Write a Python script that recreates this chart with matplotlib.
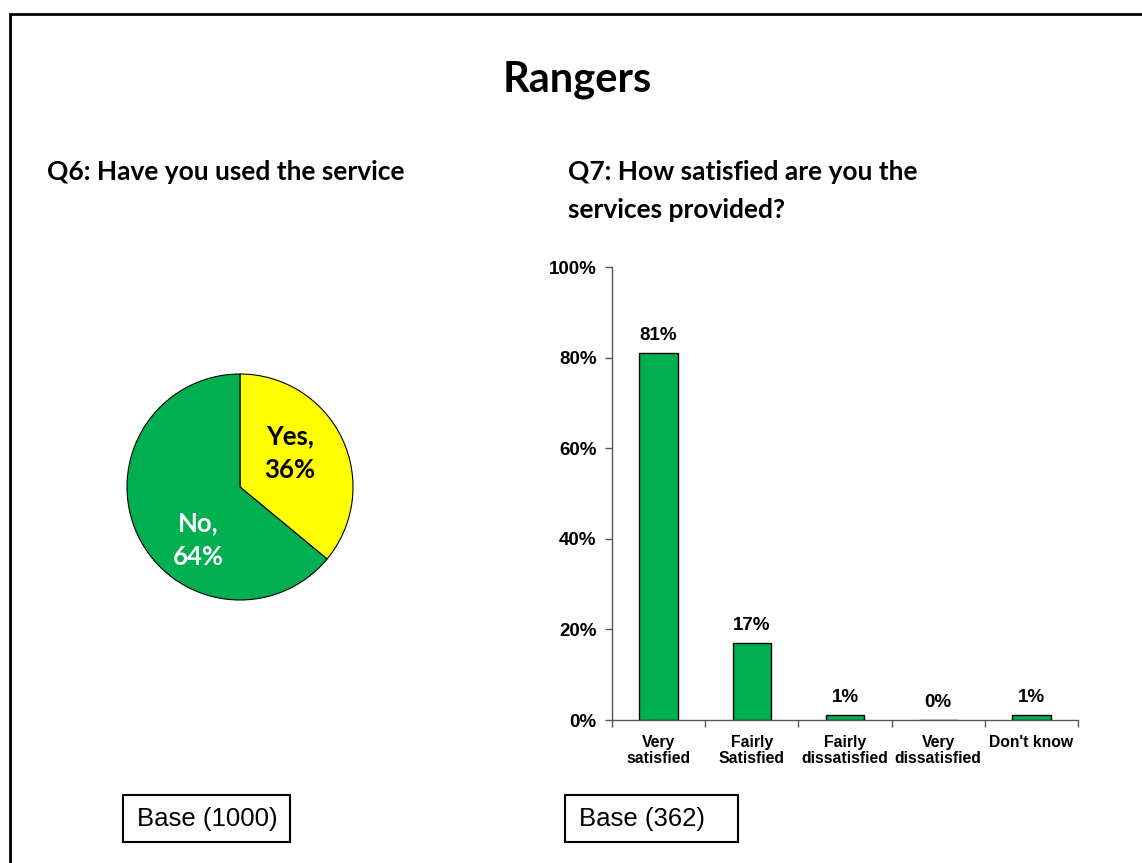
import matplotlib.pyplot as plt
import matplotlib.patches as patches
import numpy as np

# Q6 pie data
pie_labels = ['Yes', 'No']
pie_values = [36, 64]
pie_colors = ['#FFFF00', '#00B050']

# Q7 bar data
bar_categories = ['Very\nsatisfied', 'Fairly\nSatisfied', 'Fairly\ndissatisfied',
                  'Very\ndissatisfied', "Don't know"]
bar_values = [81, 17, 1, 0, 1]
y_ticks = [0, 20, 40, 60, 80, 100]

base_q6 = 1000
base_q7 = 362

head_font = 'Lato'
chart_font = 'Liberation Sans'

fig = plt.figure(figsize=(11.42, 8.63), dpi=100)
W, H = 1142, 863

def fx(px):
    return px / W

def fy(py):
    return 1 - py / H

# slide frame (runs off right and bottom edges)
frame = patches.Rectangle((fx(10), -0.1), 1.2, fy(14) + 0.1, transform=fig.transFigure,
                          fill=False, edgecolor='black', linewidth=2, clip_on=False)
fig.add_artist(frame)

fig.text(fx(577), fy(80), 'Rangers', ha='center', va='center',
         fontsize=30, fontweight='bold', family=head_font)
fig.text(fx(47), fy(172), 'Q6: Have you used the service', ha='left', va='center',
         fontsize=19, fontweight='bold', family=head_font)
fig.text(fx(568), fy(172), 'Q7: How satisfied are you the', ha='left', va='center',
         fontsize=19, fontweight='bold', family=head_font)
fig.text(fx(568), fy(210), 'services provided?', ha='left', va='center',
         fontsize=19, fontweight='bold', family=head_font)

# pie chart
cx, cy, r = 240, 487, 113
ax_pie = fig.add_axes([fx(cx - r), fy(cy + r), (2 * r) / W, (2 * r) / H])
ax_pie.pie(pie_values, colors=pie_colors, startangle=90, counterclock=False,
           wedgeprops=dict(edgecolor='black', linewidth=0.8))
ax_pie.set_xlim(-1, 1)
ax_pie.set_ylim(-1, 1)
ax_pie.set_aspect('equal')
ax_pie.axis('off')
ax_pie.text(0.44, 0.30, f'{pie_labels[0]},\n{pie_values[0]}%', ha='center', va='center',
            fontsize=18.5, fontweight='bold', family=head_font, color='black', linespacing=1.5)
ax_pie.text(-0.37, -0.47, f'{pie_labels[1]},\n{pie_values[1]}%', ha='center', va='center',
            fontsize=18.5, fontweight='bold', family=head_font, color='white', linespacing=1.5)

# bar chart
ax = fig.add_axes([fx(612), fy(720), fx(1078) - fx(612), fy(267) - fy(720)])
x = np.arange(len(bar_categories))
ax.bar(x, bar_values, width=0.41, color='#00B050', edgecolor='black', linewidth=1)
for xi, v in zip(x, bar_values):
    ax.text(xi, v + 2, f'{v}%', ha='center', va='bottom', fontsize=13.5,
            fontweight='bold', family=chart_font)
ax.set_xlim(-0.5, len(bar_categories) - 0.5)
ax.set_ylim(0, 100)
ax.set_yticks(y_ticks)
ax.set_yticklabels([f'{t}%' for t in y_ticks], fontsize=13.5, fontweight='bold', family=chart_font)
ax.set_xticks(np.arange(len(bar_categories) + 1) - 0.5)
ax.set_xticklabels([])
ax.set_xticks(x, minor=True)
ax.set_xticklabels(bar_categories, minor=True, fontsize=11.3, fontweight='bold',
                   family=chart_font, linespacing=1.1)
ax.tick_params(axis='x', which='minor', length=0, pad=11)
ax.tick_params(axis='both', which='major', length=5, width=1, color='#555555', direction='out')
ax.tick_params(axis='y', pad=6)
for s in ['top', 'right']:
    ax.spines[s].set_visible(False)
for s in ['left', 'bottom']:
    ax.spines[s].set_color('#555555')
    ax.spines[s].set_linewidth(1)

# base boxes
for x0, x1, n in [(123, 290, base_q6), (565, 738, base_q7)]:
    box = patches.Rectangle((fx(x0), fy(842)), fx(x1) - fx(x0), fy(795) - fy(842),
                            transform=fig.transFigure, fill=False, edgecolor='black', linewidth=1.5)
    fig.add_artist(box)
    fig.text(fx(x0 + 14), fy(819), f'Base ({n})', ha='left', va='center',
             fontsize=18.5, family=chart_font)

fig.savefig('out.png', dpi=100)
